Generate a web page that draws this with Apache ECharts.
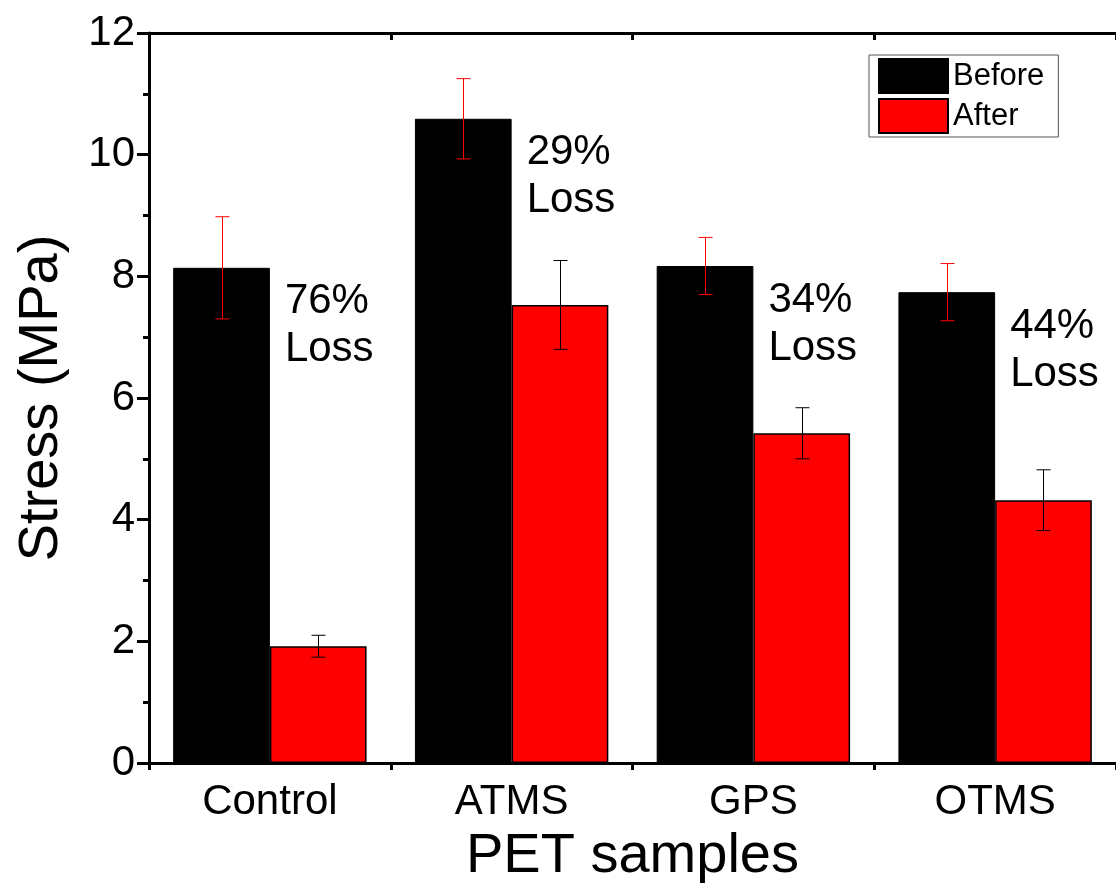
<!DOCTYPE html>
<html>
<head>
<meta charset="utf-8">
<style>
  html, body { margin: 0; padding: 0; background: #fff; }
  #chart { width: 1116px; height: 883px; }
</style>
<script src="https://cdn.jsdelivr.net/npm/echarts@6/dist/echarts.min.js"></script>
</head>
<body>
<div id="chart"></div>
<script>
// data
var samples = ['Control', 'ATMS', 'GPS', 'OTMS'];
var before = [8.14, 10.59, 8.17, 7.74];
var beforeErr = [0.84, 0.66, 0.47, 0.47];
var after = [1.92, 7.53, 5.42, 4.32];
var afterErr = [0.18, 0.73, 0.42, 0.50];
var lossLabels = ['76%', '29%', '34%', '44%'];
var yTicks = [0, 2, 4, 6, 8, 10, 12];

var font = "'Liberation Sans', Arial, sans-serif";
var gapPct = 20;

function errData(vals, errs) {
  return vals.map(function (v, i) { return [i, v - errs[i], v + errs[i]]; });
}

// side: -1 for left bar (Before), 1 for right bar (After)
function errRender(side, color) {
  return function (params, api) {
    var lo = api.coord([api.value(0), api.value(1)]);
    var hi = api.coord([api.value(0), api.value(2)]);
    var catW = api.size([1, 0])[0];
    var barW = catW * (1 - gapPct / 100) / 2;
    var x = Math.round(lo[0] + side * barW / 2) + 0.5;
    var cap = 7;
    var st = { stroke: color, lineWidth: 1 };
    return {
      type: 'group',
      children: [
        { type: 'line', shape: { x1: x, y1: hi[1], x2: x, y2: lo[1] }, style: st },
        { type: 'line', shape: { x1: x - cap, y1: hi[1], x2: x + cap, y2: hi[1] }, style: st },
        { type: 'line', shape: { x1: x - cap, y1: lo[1], x2: x + cap, y2: lo[1] }, style: st }
      ]
    };
  };
}

var chart = echarts.init(document.getElementById('chart'));
var axisLine = { show: true, lineStyle: { color: '#000', width: 3 } };

var option = {
  animation: false,
  backgroundColor: '#fff',
  textStyle: { fontFamily: font },
  grid: { left: 149, right: 0, top: 33, bottom: 120, outerBoundsMode: 'none', containLabel: false },
  legend: {
    data: ['Before', 'After'],
    orient: 'vertical',
    left: 869,
    top: 55,
    icon: 'rect',
    itemWidth: 69,
    itemHeight: 34,
    itemGap: 4,
    padding: [3, 14, 3, 9],
    borderColor: '#555',
    borderWidth: 1,
    textStyle: { fontSize: 31, color: '#000', fontFamily: font }
  },
  xAxis: [
    {
      type: 'category',
      data: samples,
      position: 'bottom',
      axisLine: axisLine,
      axisTick: { alignWithLabel: true, length: 13, lineStyle: { width: 3, color: '#000' } },
      axisLabel: { fontSize: 42, color: '#000', margin: 18, fontFamily: font },
      splitLine: { show: false },
      name: 'PET samples',
      nameLocation: 'middle',
      nameGap: 66,
      nameTextStyle: { fontSize: 56, color: '#000', fontFamily: font }
    },
    {
      type: 'value', position: 'bottom', min: 0, max: 4, interval: 1,
      axisLine: { show: false },
      axisTick: { show: true, length: 7, lineStyle: { width: 3, color: '#000' } },
      axisLabel: { show: false }, splitLine: { show: false }
    },
    {
      type: 'category', data: samples, position: 'top',
      axisLine: axisLine,
      axisTick: { alignWithLabel: true, inside: true, length: 14, lineStyle: { width: 3, color: '#000' } },
      axisLabel: { show: false }, splitLine: { show: false }
    },
    {
      type: 'value', position: 'top', min: 0, max: 4, interval: 1,
      axisLine: { show: false },
      axisTick: { show: true, inside: true, length: 7, lineStyle: { width: 3, color: '#000' } },
      axisLabel: { show: false }, splitLine: { show: false }
    }
  ],
  yAxis: [
    {
      type: 'value', position: 'left', min: yTicks[0], max: yTicks[yTicks.length - 1], interval: 2,
      axisLine: axisLine,
      axisTick: { show: true, length: 12, lineStyle: { width: 3, color: '#000' } },
      minorTick: { show: true, splitNumber: 2, length: 6, lineStyle: { width: 3, color: '#000' } },
      axisLabel: { fontSize: 42, color: '#000', margin: 14, fontFamily: font },
      splitLine: { show: false },
      name: 'Stress (MPa)',
      nameLocation: 'middle',
      nameGap: 79,
      nameTextStyle: { fontSize: 56, color: '#000', fontFamily: font }
    },
    {
      type: 'value', position: 'right', min: yTicks[0], max: yTicks[yTicks.length - 1], interval: 2,
      axisLine: { show: false },
      axisTick: { show: true, inside: true, length: 8, lineStyle: { width: 3, color: '#000' } },
      minorTick: { show: true, splitNumber: 2, length: 3, lineStyle: { width: 3, color: '#000' } },
      axisLabel: { show: false },
      splitLine: { show: false }
    }
  ],
  series: [
    {
      name: 'Before',
      type: 'bar',
      data: before,
      barGap: '0%',
      barCategoryGap: gapPct + '%',
      itemStyle: { color: '#000', borderColor: '#000', borderWidth: 1 },
      label: {
        show: true,
        position: ['100%', 0],
        offset: [15, 10],
        align: 'left',
        verticalAlign: 'top',
        fontSize: 42,
        lineHeight: 48,
        color: '#000',
        fontFamily: font,
        formatter: function (p) { return lossLabels[p.dataIndex] + '\nLoss'; }
      },
      z: 2
    },
    {
      name: 'After',
      type: 'bar',
      data: after,
      barGap: '0%',
      barCategoryGap: gapPct + '%',
      itemStyle: { color: '#ff0000', borderColor: '#000', borderWidth: 1.5 },
      z: 2
    },
    {
      name: 'BeforeErr',
      type: 'custom',
      data: errData(before, beforeErr),
      renderItem: errRender(-1, '#ff0000'),
      z: 5
    },
    {
      name: 'AfterErr',
      type: 'custom',
      data: errData(after, afterErr),
      renderItem: errRender(1, '#000'),
      z: 5
    }
  ]
};

chart.setOption(option);
</script>
</body>
</html>
